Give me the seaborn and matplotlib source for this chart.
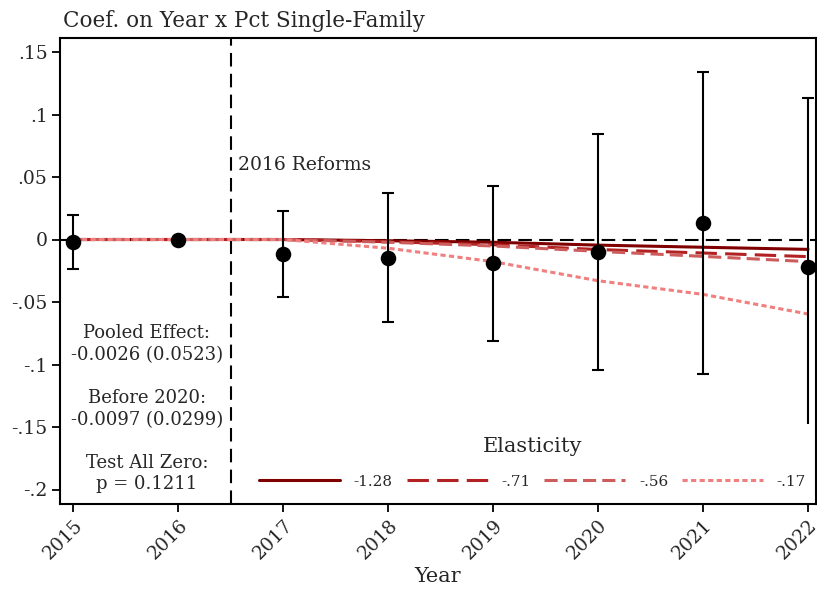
import numpy as np
import pandas as pd
import matplotlib
matplotlib.use("Agg")
import matplotlib.pyplot as plt
import seaborn as sns

# Event-study coefficients (95% CI), 2016 is the omitted year
years = [2015, 2016, 2017, 2018, 2019, 2020, 2021, 2022]
coef = [-0.0021, 0.0, -0.0116, -0.0146, -0.0188, -0.0103, 0.0135, -0.0217]
ci_low = [-0.0237, 0.0, -0.0460, -0.0660, -0.0810, -0.1045, -0.1073, -0.1567]
ci_high = [0.0197, 0.0, 0.0230, 0.0375, 0.0428, 0.0841, 0.1343, 0.1132]

# Implied paths under alternative elasticities
elasticity_labels = ["-1.28", "-.71", "-.56", "-.17"]
path_128 = [0.0, 0.0, 0.0, -0.0010, -0.0022, -0.0045, -0.0062, -0.0079]
path_071 = [0.0, 0.0, 0.0, -0.0018, -0.0042, -0.0080, -0.0108, -0.0137]
path_056 = [0.0, 0.0, 0.0, -0.0022, -0.0052, -0.0095, -0.0135, -0.0177]
path_017 = [0.0, 0.0, 0.0, -0.0070, -0.0177, -0.0330, -0.0439, -0.0596]

ytick_vals = [0.15, 0.1, 0.05, 0.0, -0.05, -0.1, -0.15, -0.2]
ytick_labels = [".15", ".1", ".05", "0", "-.05", "-.1", "-.15", "-.2"]

notes = ["Pooled Effect:\n-0.0026 (0.0523)",
         "Before 2020:\n-0.0097 (0.0299)",
         "Test All Zero:\np = 0.1211"]

sns.set_theme(style="white")
plt.rcParams["font.family"] = ["DejaVu Serif"]

fig = plt.figure(figsize=(8.17, 5.90), dpi=100)
ax = fig.add_axes([60 / 817, 1 - 504 / 590, 756 / 817, 466 / 590])

paths = pd.DataFrame({
    "Year": years * 4,
    "value": path_128 + path_071 + path_056 + path_017,
    "Elasticity": sum([[lab] * len(years) for lab in elasticity_labels], []),
})
palette = {"-1.28": "#800000", "-.71": "#b22222", "-.56": "#cd5c5c", "-.17": "#f08080"}
dash_map = {"-1.28": "", "-.71": (7, 2.7), "-.56": (4.3, 2.0), "-.17": (1.7, 1.1)}

# reference lines
ax.axhline(0, color="black", lw=1.5, dashes=(6.5, 3.5), zorder=1)
ax.axvline(2016.5, color="black", lw=1.5, dashes=(6.5, 3.5), zorder=1)

sns.lineplot(data=paths, x="Year", y="value", hue="Elasticity", style="Elasticity",
             palette=palette, dashes=dash_map, hue_order=elasticity_labels,
             style_order=elasticity_labels, linewidth=2.2, ax=ax, zorder=2)

coef_arr = np.array(coef)
yerr = np.vstack([coef_arr - np.array(ci_low), np.array(ci_high) - coef_arr])
mask = np.array(years) != 2016
ax.errorbar(np.array(years)[mask], coef_arr[mask], yerr=yerr[:, mask], fmt="none",
            ecolor="black", elinewidth=1.5, capsize=4.5, capthick=1.5, zorder=3)
sns.scatterplot(x=years, y=coef, color="black", s=125, edgecolor="black",
                linewidth=0, ax=ax, zorder=4, legend=False)

ax.set_xlim(2014.873, 2022.076)
ax.set_ylim(-0.2116, 0.1612)
ax.set_xticks(years)
ax.set_xticklabels([str(y) for y in years], rotation=45, ha="right",
                   rotation_mode="anchor", fontsize=13.5)
ax.set_yticks(ytick_vals)
ax.set_yticklabels(ytick_labels, fontsize=13.5)
ax.tick_params(axis="both", direction="out", length=6, width=1.3, color="black",
               left=True, bottom=True, pad=3)
for s in ax.spines.values():
    s.set_color("black")
    s.set_linewidth(1.5)
    s.set_zorder(6)

ax.set_xlabel("Year", fontsize=15, labelpad=3)
ax.set_ylabel("")
ax.set_title("Coef. on Year x Pct Single-Family", loc="left", fontsize=15.5, pad=8, x=0.004)

ax.text(2016.57, 0.0595, "2016 Reforms", fontsize=13.5, ha="left", va="center")
for txt, yv in zip(notes, [-0.0835, -0.1355, -0.187]):
    ax.text(2015.7, yv, txt, fontsize=13, ha="center", va="center", linespacing=1.25)

leg = ax.legend(title="Elasticity", ncol=4, loc="center", bbox_to_anchor=(0.625, 0.088),
                fontsize=11, title_fontsize=15, frameon=True, facecolor="white",
                edgecolor="none", framealpha=1, handlelength=5.3, handletextpad=0.9,
                columnspacing=0.9, borderpad=0.9, labelspacing=1.2)
leg.set_zorder(5)

fig.savefig("out.png", dpi=100)
